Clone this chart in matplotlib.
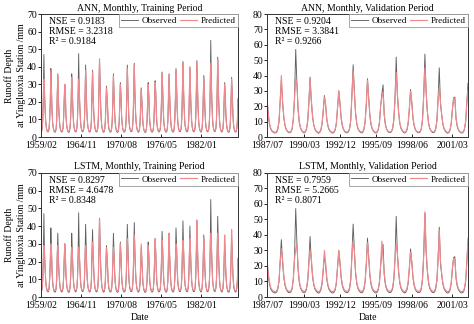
import numpy as np
import matplotlib
matplotlib.use('Agg')
import matplotlib.pyplot as plt

plt.rcParams['font.family'] = ['Liberation Serif', 'DejaVu Serif']
plt.rcParams['font.size'] = 7

# Monthly runoff depth (mm), training period 1959/02 - 1987/06, one row per year (Feb..Jan)
obs_train = [
    [2.8, 3.1, 4.6, 9.2, 22.5, 47.0, 24.8, 17.3, 9.6, 5.8, 4.1, 3.2],
    [2.9, 3.2, 5.1, 10.4, 19.6, 39.0, 28.7, 15.1, 8.4, 5.5, 3.9, 3.0],
    [2.7, 3.0, 4.4, 8.8, 24.3, 36.0, 21.6, 13.9, 8.1, 5.2, 3.8, 3.1],
    [2.8, 3.3, 5.0, 11.2, 20.8, 30.0, 25.4, 12.7, 7.6, 5.0, 3.7, 2.9],
    [2.6, 3.1, 4.8, 9.5, 18.9, 36.0, 27.2, 16.4, 8.9, 5.6, 4.0, 3.1],
    [2.9, 3.4, 5.3, 10.8, 23.1, 47.5, 26.0, 18.2, 10.1, 6.0, 4.3, 3.3],
    [3.0, 3.5, 5.2, 9.9, 21.7, 41.0, 27.9, 15.8, 9.0, 5.7, 4.1, 3.2],
    [2.8, 3.2, 4.7, 9.1, 25.6, 38.0, 22.4, 14.6, 8.5, 5.4, 3.9, 3.0],
    [2.9, 3.3, 5.0, 10.6, 27.3, 44.5, 30.1, 17.9, 9.8, 5.9, 4.2, 3.2],
    [2.7, 3.0, 4.5, 8.4, 17.2, 29.0, 22.8, 16.5, 8.0, 5.1, 3.7, 2.9],
    [2.8, 3.2, 4.9, 9.7, 20.4, 36.0, 25.3, 14.2, 8.3, 5.3, 3.8, 3.0],
    [2.6, 3.0, 4.6, 8.9, 19.8, 31.0, 23.9, 12.4, 7.4, 4.9, 3.6, 2.9],
    [2.8, 3.3, 5.1, 10.2, 22.6, 41.0, 28.4, 16.1, 8.8, 5.6, 4.0, 3.1],
    [3.0, 3.4, 5.4, 11.0, 24.9, 42.0, 26.7, 15.5, 9.1, 5.8, 4.1, 3.2],
    [2.7, 3.1, 4.4, 8.2, 16.8, 28.0, 21.5, 13.3, 7.5, 4.9, 3.6, 2.8],
    [2.6, 3.0, 4.7, 9.0, 18.7, 31.0, 24.6, 12.9, 7.7, 5.0, 3.7, 2.9],
    [2.8, 3.2, 4.9, 9.6, 20.1, 32.0, 26.2, 14.0, 8.0, 5.2, 3.8, 3.0],
    [2.9, 3.3, 5.0, 9.8, 21.4, 37.0, 27.5, 15.2, 8.6, 5.4, 3.9, 3.1],
    [2.7, 3.1, 4.8, 9.3, 23.8, 36.0, 24.1, 14.7, 8.4, 5.3, 3.8, 3.0],
    [2.8, 3.2, 5.1, 10.1, 22.0, 39.0, 29.3, 16.0, 8.9, 5.6, 4.0, 3.1],
    [3.0, 3.5, 5.3, 10.7, 25.2, 43.0, 28.0, 17.1, 9.4, 5.9, 4.2, 3.2],
    [2.9, 3.3, 5.0, 9.9, 23.6, 40.0, 26.5, 15.9, 9.0, 5.7, 4.0, 3.1],
    [3.0, 3.4, 5.2, 10.5, 24.4, 43.5, 30.6, 17.6, 9.5, 5.9, 4.2, 3.3],
    [2.8, 3.2, 4.8, 9.4, 21.2, 35.0, 25.8, 14.4, 8.2, 5.3, 3.8, 3.0],
    [3.1, 3.6, 5.6, 11.4, 26.9, 55.0, 31.4, 19.8, 10.6, 6.3, 4.5, 3.4],
    [3.0, 3.5, 5.3, 10.9, 25.7, 45.5, 29.1, 18.3, 9.9, 6.0, 4.3, 3.3],
    [2.8, 3.2, 4.7, 9.1, 19.4, 31.0, 24.2, 13.6, 7.9, 5.1, 3.7, 2.9],
    [2.7, 3.1, 4.8, 9.5, 20.6, 34.0, 25.1, 14.3, 8.1, 5.2, 3.8, 3.0],
    [2.8, 3.2, 4.9, 9.6, 21.8],
]

ann_train = [
    [3.4, 3.6, 5.0, 9.8, 21.0, 33.0, 26.2, 16.4, 9.1, 5.9, 4.3, 3.6],
    [3.3, 3.7, 5.4, 10.1, 20.5, 38.0, 27.6, 15.4, 8.8, 5.7, 4.1, 3.5],
    [3.2, 3.5, 4.9, 9.4, 22.9, 35.0, 22.3, 14.2, 8.5, 5.5, 4.0, 3.4],
    [3.3, 3.7, 5.3, 10.6, 20.2, 30.0, 24.7, 13.1, 8.0, 5.3, 3.9, 3.3],
    [3.1, 3.6, 5.1, 9.8, 19.7, 34.0, 26.4, 16.0, 9.2, 5.8, 4.2, 3.4],
    [3.4, 3.8, 5.6, 10.9, 22.4, 33.0, 27.1, 17.4, 9.9, 6.1, 4.4, 3.6],
    [3.5, 3.9, 5.5, 10.3, 21.1, 38.0, 27.0, 16.2, 9.3, 5.9, 4.3, 3.5],
    [3.3, 3.6, 5.0, 9.5, 24.3, 37.0, 23.1, 14.9, 8.8, 5.6, 4.1, 3.4],
    [3.4, 3.7, 5.3, 10.8, 26.5, 44.0, 29.4, 17.5, 10.0, 6.1, 4.4, 3.5],
    [3.2, 3.5, 4.8, 8.9, 17.6, 28.0, 22.0, 16.1, 8.4, 5.4, 3.9, 3.3],
    [3.3, 3.6, 5.2, 10.0, 20.1, 35.0, 24.8, 14.6, 8.6, 5.5, 4.0, 3.4],
    [3.1, 3.5, 4.9, 9.2, 19.5, 30.0, 23.2, 12.9, 7.8, 5.2, 3.8, 3.3],
    [3.3, 3.7, 5.4, 10.4, 22.1, 39.0, 27.7, 16.5, 9.1, 5.8, 4.2, 3.5],
    [3.5, 3.8, 5.6, 11.1, 24.2, 41.0, 26.1, 15.8, 9.4, 6.0, 4.3, 3.5],
    [3.2, 3.5, 4.7, 8.7, 17.1, 27.0, 21.0, 13.6, 7.9, 5.2, 3.8, 3.2],
    [3.1, 3.4, 5.0, 9.3, 18.9, 30.0, 24.0, 13.3, 8.0, 5.3, 3.9, 3.3],
    [3.3, 3.6, 5.2, 9.9, 20.0, 31.0, 25.5, 14.4, 8.3, 5.4, 4.0, 3.4],
    [3.4, 3.7, 5.3, 10.0, 21.2, 36.0, 26.8, 15.5, 8.9, 5.6, 4.1, 3.5],
    [3.2, 3.5, 5.1, 9.6, 23.0, 35.0, 24.5, 15.0, 8.7, 5.5, 4.0, 3.4],
    [3.3, 3.6, 5.4, 10.3, 21.6, 37.0, 28.4, 16.3, 9.2, 5.8, 4.2, 3.5],
    [3.5, 3.9, 5.6, 10.9, 24.6, 42.0, 27.6, 17.2, 9.7, 6.1, 4.4, 3.6],
    [3.4, 3.7, 5.3, 10.2, 23.0, 39.0, 26.2, 16.1, 9.3, 5.9, 4.2, 3.5],
    [3.5, 3.8, 5.5, 10.7, 23.9, 43.0, 29.8, 17.7, 9.8, 6.1, 4.4, 3.6],
    [3.3, 3.6, 5.1, 9.7, 20.8, 34.0, 25.2, 14.8, 8.5, 5.5, 4.0, 3.4],
    [3.6, 4.0, 5.9, 11.5, 26.2, 42.0, 30.5, 19.2, 10.7, 6.4, 4.6, 3.7],
    [3.5, 3.9, 5.6, 11.0, 25.0, 44.0, 28.6, 18.0, 10.1, 6.2, 4.4, 3.6],
    [3.3, 3.6, 5.0, 9.4, 19.2, 30.0, 23.7, 13.9, 8.2, 5.3, 3.9, 3.3],
    [3.2, 3.5, 5.1, 9.8, 20.3, 33.0, 24.6, 14.6, 8.4, 5.4, 4.0, 3.4],
    [3.3, 3.6, 5.2, 9.9, 21.2],
]

lstm_train = [
    [3.6, 3.9, 5.4, 10.2, 20.4, 29.0, 25.1, 17.0, 9.8, 6.2, 4.6, 3.9],
    [3.5, 3.8, 5.6, 10.6, 20.9, 30.0, 26.3, 15.9, 9.3, 6.0, 4.4, 3.7],
    [3.4, 3.7, 5.2, 9.9, 21.8, 29.0, 22.6, 14.8, 9.0, 5.8, 4.3, 3.6],
    [3.5, 3.9, 5.5, 10.8, 20.6, 30.0, 24.2, 13.7, 8.5, 5.6, 4.2, 3.5],
    [3.3, 3.7, 5.3, 10.1, 19.8, 28.0, 25.0, 16.3, 9.5, 6.0, 4.4, 3.6],
    [3.6, 4.0, 5.8, 11.0, 21.5, 28.0, 25.9, 17.8, 10.2, 6.3, 4.6, 3.8],
    [3.7, 4.0, 5.7, 10.6, 21.0, 29.0, 26.4, 16.6, 9.6, 6.1, 4.5, 3.7],
    [3.5, 3.8, 5.3, 9.9, 23.2, 31.0, 23.5, 15.4, 9.2, 5.9, 4.3, 3.6],
    [3.6, 3.9, 5.5, 11.0, 26.0, 44.0, 29.0, 17.8, 10.3, 6.3, 4.6, 3.7],
    [3.4, 3.7, 5.0, 9.2, 18.0, 28.0, 22.4, 16.2, 8.8, 5.7, 4.2, 3.5],
    [3.5, 3.8, 5.4, 10.3, 20.2, 28.0, 24.1, 14.9, 8.9, 5.8, 4.3, 3.6],
    [3.3, 3.7, 5.1, 9.5, 19.6, 30.0, 23.0, 13.4, 8.2, 5.5, 4.1, 3.5],
    [3.5, 3.9, 5.6, 10.7, 21.4, 33.0, 26.6, 16.4, 9.4, 6.0, 4.4, 3.7],
    [3.7, 4.0, 5.8, 11.3, 23.1, 35.0, 25.7, 15.9, 9.6, 6.2, 4.5, 3.7],
    [3.4, 3.7, 4.9, 9.0, 17.9, 30.0, 21.8, 14.1, 8.3, 5.5, 4.1, 3.5],
    [3.3, 3.6, 5.2, 9.6, 18.8, 29.0, 23.6, 13.8, 8.4, 5.6, 4.2, 3.5],
    [3.5, 3.8, 5.4, 10.2, 20.3, 33.0, 25.0, 14.8, 8.7, 5.7, 4.2, 3.6],
    [3.6, 3.9, 5.5, 10.3, 21.0, 32.0, 26.0, 15.7, 9.2, 5.9, 4.3, 3.7],
    [3.4, 3.7, 5.3, 9.9, 22.5, 36.0, 24.3, 15.3, 9.0, 5.8, 4.2, 3.6],
    [3.5, 3.8, 5.6, 10.6, 21.3, 30.0, 27.0, 16.4, 9.5, 6.0, 4.4, 3.7],
    [3.7, 4.1, 5.8, 11.1, 23.9, 32.0, 27.1, 17.3, 10.0, 6.3, 4.6, 3.8],
    [3.6, 3.9, 5.5, 10.5, 22.4, 33.0, 25.8, 16.3, 9.6, 6.1, 4.4, 3.7],
    [3.7, 4.0, 5.7, 10.9, 23.3, 43.0, 29.0, 17.8, 10.1, 6.3, 4.6, 3.8],
    [3.5, 3.8, 5.3, 10.0, 20.5, 33.0, 24.9, 15.0, 8.9, 5.8, 4.2, 3.6],
    [3.8, 4.2, 6.1, 11.7, 25.4, 36.0, 30.2, 19.0, 10.9, 6.6, 4.8, 3.9],
    [3.7, 4.1, 5.8, 11.2, 24.1, 36.0, 28.0, 18.1, 10.4, 6.4, 4.6, 3.8],
    [3.5, 3.8, 5.2, 9.8, 19.5, 35.0, 23.4, 14.3, 8.6, 5.6, 4.1, 3.5],
    [3.4, 3.7, 5.3, 10.1, 20.5, 38.0, 24.5, 15.0, 8.8, 5.7, 4.2, 3.6],
    [3.5, 3.8, 5.4, 10.2, 21.0],
]

# Validation period 1987/07 - 2001/07 (first row Jul..Jan, then Feb..Jan)
obs_valid = [
    [27.0, 14.5, 8.6, 5.4, 4.0, 3.2, 2.8],
    [2.6, 3.1, 4.9, 9.8, 24.0, 37.0, 22.5, 13.0, 7.6, 5.0, 3.7, 2.9],
    [2.8, 3.3, 5.2, 11.5, 26.0, 57.0, 35.0, 17.5, 9.4, 5.8, 4.1, 3.1],
    [2.7, 3.2, 5.0, 10.2, 22.5, 39.0, 24.0, 13.8, 8.0, 5.2, 3.8, 3.0],
    [2.5, 2.9, 4.4, 8.3, 17.0, 27.0, 20.5, 11.2, 6.9, 4.6, 3.5, 2.8],
    [2.6, 3.0, 4.6, 8.9, 19.5, 30.0, 21.8, 12.1, 7.2, 4.8, 3.6, 2.9],
    [2.8, 3.3, 5.1, 10.8, 28.0, 47.0, 30.5, 15.6, 8.7, 5.5, 4.0, 3.1],
    [2.7, 3.1, 4.8, 9.6, 21.5, 38.0, 25.3, 13.5, 7.9, 5.1, 3.8, 3.0],
    [2.6, 3.0, 4.7, 9.2, 20.5, 28.0, 34.0, 14.2, 7.8, 5.0, 3.7, 2.9],
    [2.9, 3.4, 5.3, 11.0, 25.0, 52.0, 27.5, 16.0, 8.9, 5.6, 4.0, 3.1],
    [2.6, 3.0, 4.6, 8.8, 18.4, 31.0, 22.6, 12.4, 7.3, 4.8, 3.6, 2.9],
    [2.8, 3.3, 5.2, 11.3, 27.5, 54.0, 29.5, 16.8, 9.1, 5.7, 4.1, 3.1],
    [2.8, 3.2, 5.0, 10.4, 24.8, 45.0, 22.0, 14.4, 8.3, 5.3, 3.9, 3.0],
    [2.5, 2.9, 4.5, 8.6, 18.0, 25.5, 26.0, 12.0, 7.0, 4.7, 3.5, 2.8],
    [2.6, 3.1, 4.8, 9.5, 22.0, 35.0],
]

ann_valid = [
    [24.0, 15.5, 9.2, 5.9, 4.4, 3.6, 3.2],
    [3.1, 3.5, 5.3, 10.2, 23.0, 40.0, 23.8, 13.6, 8.0, 5.3, 4.0, 3.3],
    [3.2, 3.6, 5.5, 11.8, 25.2, 38.0, 35.0, 18.2, 9.8, 6.1, 4.4, 3.5],
    [3.2, 3.6, 5.4, 10.5, 22.0, 38.0, 24.6, 14.3, 8.4, 5.5, 4.1, 3.4],
    [3.0, 3.3, 4.8, 8.7, 17.4, 26.0, 21.0, 11.8, 7.3, 4.9, 3.8, 3.2],
    [3.1, 3.4, 5.0, 9.3, 19.8, 30.0, 22.3, 12.6, 7.6, 5.1, 3.9, 3.3],
    [3.3, 3.7, 5.5, 11.1, 27.0, 43.0, 30.0, 16.1, 9.1, 5.8, 4.3, 3.5],
    [3.2, 3.5, 5.2, 9.9, 21.2, 37.0, 25.8, 14.0, 8.3, 5.4, 4.1, 3.4],
    [3.1, 3.4, 5.1, 9.6, 20.2, 26.0, 29.0, 14.8, 8.2, 5.3, 4.0, 3.3],
    [3.4, 3.8, 5.7, 11.3, 24.3, 42.0, 28.0, 16.5, 9.3, 5.9, 4.3, 3.5],
    [3.1, 3.4, 5.0, 9.2, 18.8, 30.0, 23.0, 12.9, 7.7, 5.1, 3.9, 3.3],
    [3.3, 3.7, 5.6, 11.6, 26.8, 45.0, 30.2, 17.2, 9.5, 6.0, 4.4, 3.5],
    [3.3, 3.6, 5.4, 10.7, 24.0, 32.0, 23.0, 14.9, 8.7, 5.6, 4.2, 3.4],
    [3.0, 3.3, 4.9, 9.0, 18.4, 25.0, 25.5, 12.5, 7.4, 5.0, 3.8, 3.2],
    [3.1, 3.5, 5.2, 9.9, 21.5, 31.0],
]

lstm_valid = [
    [20.0, 16.0, 9.8, 6.3, 4.8, 4.0, 3.6],
    [3.5, 3.9, 5.6, 10.5, 22.0, 31.0, 24.6, 14.1, 8.5, 5.7, 4.4, 3.7],
    [3.6, 4.0, 5.8, 12.0, 24.5, 31.0, 34.0, 19.0, 10.3, 6.5, 4.8, 3.9],
    [3.6, 4.0, 5.7, 10.8, 21.4, 30.0, 25.2, 14.9, 8.8, 5.9, 4.5, 3.8],
    [3.4, 3.7, 5.2, 9.1, 18.0, 30.0, 21.6, 12.3, 7.7, 5.3, 4.2, 3.6],
    [3.5, 3.8, 5.4, 9.7, 20.1, 30.0, 22.9, 13.1, 8.0, 5.5, 4.3, 3.7],
    [3.7, 4.1, 5.9, 11.4, 26.1, 36.0, 30.4, 16.6, 9.5, 6.2, 4.7, 3.9],
    [3.6, 3.9, 5.6, 10.3, 21.0, 35.0, 26.3, 14.6, 8.7, 5.8, 4.5, 3.8],
    [3.5, 3.8, 5.5, 10.0, 20.4, 36.0, 26.0, 15.2, 8.6, 5.7, 4.4, 3.7],
    [3.8, 4.2, 6.1, 11.7, 24.0, 34.0, 28.5, 17.0, 9.7, 6.3, 4.7, 3.9],
    [3.5, 3.8, 5.4, 9.6, 19.2, 29.0, 23.4, 13.4, 8.1, 5.5, 4.3, 3.7],
    [3.7, 4.1, 6.0, 12.0, 27.0, 55.0, 30.0, 17.6, 9.9, 6.4, 4.8, 3.9],
    [3.7, 4.0, 5.8, 11.1, 23.8, 43.0, 23.5, 15.4, 9.1, 6.0, 4.6, 3.8],
    [3.4, 3.7, 5.3, 9.4, 18.7, 25.0, 24.0, 13.0, 7.8, 5.4, 4.2, 3.6],
    [3.5, 3.9, 5.6, 10.3, 21.8, 38.0],
]

train_labels = ['1959/02', '1964/11', '1970/08', '1976/05', '1982/01']
valid_labels = ['1987/07', '1990/03', '1992/12', '1995/09', '1998/06', '2001/03']

titles = ['ANN, Monthly, Training Period', 'ANN, Monthly, Validation Period',
          'LSTM, Monthly, Training Period', 'LSTM, Monthly, Validation Period']
scores = [(0.9183, 3.2318, 0.9184), (0.9204, 3.3841, 0.9266),
          (0.8297, 4.6478, 0.8348), (0.7959, 5.2665, 0.8071)]


def flat(rows):
    return np.array([v for r in rows for v in r])


o_tr, o_va = flat(obs_train), flat(obs_valid)
panels = [
    (o_tr, flat(ann_train), 70, [0, 69, 138, 207, 276], train_labels),
    (o_va, flat(ann_valid), 80, [0, 31, 61, 91, 121, 155], valid_labels),
    (o_tr, flat(lstm_train), 70, [0, 69, 138, 207, 276], train_labels),
    (o_va, flat(lstm_valid), 80, [0, 31, 61, 91, 121, 155], valid_labels),
]

fig = plt.figure(figsize=(4.74, 3.24), dpi=100)
rects = [[0.0865, 0.577, 0.4156, 0.3796], [0.5633, 0.577, 0.424, 0.3796],
         [0.0865, 0.0833, 0.4156, 0.383], [0.5633, 0.0833, 0.424, 0.383]]

for k, (obs, pred, ymax, ticks, labels) in enumerate(panels):
    ax = fig.add_axes(rects[k])
    x = np.arange(len(obs))
    ax.plot(x, obs, color='#606060', lw=0.65, label='Observed')
    ax.plot(x, pred, color='#f08a8f', lw=0.85, label='Predicted')
    ax.set_xlim(0, len(obs) - 1)
    ax.set_ylim(0, ymax)
    ax.set_yticks(np.arange(0, ymax + 1, 10))
    ax.set_xticks(ticks)
    ax.set_xticklabels(labels)
    ax.tick_params(axis='y', direction='out', length=2, width=0.6, pad=1, labelsize=7)
    ax.tick_params(axis='x', direction='in', length=2, width=0.6, pad=3.2, labelsize=7)
    for s in ax.spines.values():
        s.set_linewidth(0.7)
        s.set_color('#333333')
    ax.set_title(titles[k], fontsize=7, pad=2.5)
    nse, rmse, r2 = scores[k]
    ax.text(0.04, 0.975, f'NSE = {nse:.4f}\nRMSE = {rmse:.4f}\nR² = {r2:.4f}',
            transform=ax.transAxes, va='top', ha='left', fontsize=7, linespacing=1.15)
    leg = ax.legend(loc='upper right', ncol=2, fontsize=6.6, borderaxespad=0,
                    handlelength=1.9, handletextpad=0.35, columnspacing=0.35,
                    borderpad=0.25, fancybox=False, framealpha=1)
    leg.get_frame().set_edgecolor('#999999')
    leg.get_frame().set_linewidth(0.6)
    if k % 2 == 0:
        ax.set_ylabel('Runoff Depth\nat Yingluoxia Station /mm', fontsize=7,
                      labelpad=0.5, linespacing=1.45)
    if k >= 2:
        ax.set_xlabel('Date', fontsize=7, labelpad=2)

fig.savefig('out.png', dpi=100)
